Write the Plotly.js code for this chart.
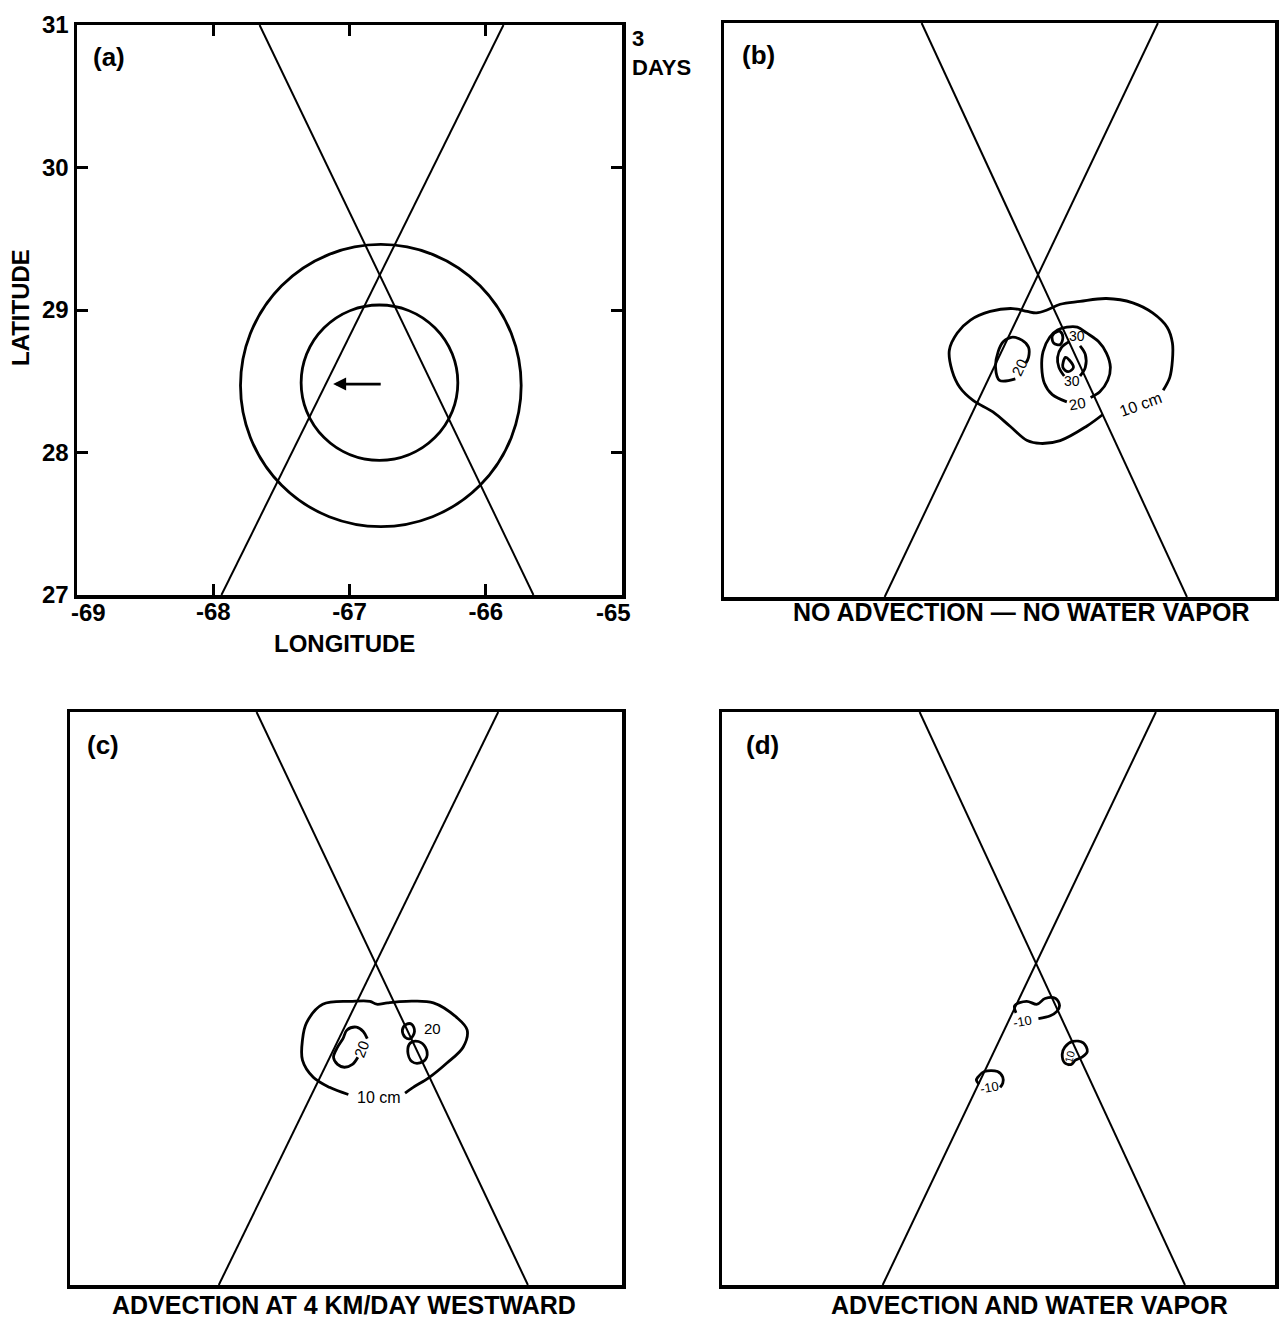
<!DOCTYPE html>
<html>
<head>
<meta charset="utf-8">
<script src="https://cdn.plot.ly/plotly-3.0.1.min.js"></script>
<style>
  html, body { margin: 0; padding: 0; background: #fff; }
  #chart { width: 1282px; height: 1319px; }
</style>
</head>
<body>
<div id="chart"></div>
<script>
// ---- Axis ticks (panel a) ----
const lonTicks = [-69, -68, -67, -66, -65];
const latTicks = [27, 28, 29, 30, 31];

// ---- Satellite ground tracks (lon, lat) ----
const trackLon1 = [-67.66, -65.65];
const trackLat1 = [31, 27];
const trackLon2 = [-67.94, -65.87];
const trackLat2 = [27, 31];

// ---- Panel (a): eddy rings (center lon/lat, radii in degrees) ----
const ringLon   = [-66.77, -66.78];
const ringLat   = [28.47, 28.49];
const ringRadLon = [1.03, 0.575];
const ringRadLat = [0.99, 0.545];
// drift direction arrow (tail -> head)
const driftLon = [-66.76, -67.12];
const driftLat = [28.48, 28.48];

// ---- Panel (b): no advection, no water vapor ----
const b10Lon = [-66.29,-66.41,-66.61,-66.76,-66.86,-66.99,-67.12,-67.27,-67.37,-67.43,-67.45,-67.39,-67.29,-67.14,-66.97,-66.86,-66.79,-66.71,-66.61,-66.46,-66.26,-66.06,-65.91,-65.80,-65.76,-65.76,-65.78,-65.83];
const b10Lat = [28.27,28.19,28.09,28.07,28.09,28.19,28.29,28.37,28.46,28.58,28.72,28.84,28.93,28.99,29.01,28.99,28.98,29.00,29.04,29.06,29.08,29.05,28.98,28.88,28.77,28.65,28.53,28.44];
const b20aLon = [-66.95,-67.07,-67.10,-67.08,-67.04,-66.98,-66.90,-66.85,-66.85,-66.87];
const b20aLat = [28.52,28.51,28.60,28.71,28.78,28.81,28.79,28.74,28.67,28.63];
const b20bLon = [-66.56,-66.67,-66.73,-66.75,-66.74,-66.69,-66.63,-66.56,-66.48,-66.41,-66.32,-66.26,-66.23,-66.25,-66.31,-66.38];
const b20bLat = [28.36,28.41,28.49,28.60,28.71,28.81,28.86,28.88,28.88,28.84,28.78,28.70,28.60,28.51,28.43,28.39];
const b30Lon = [-66.54,-66.60,-66.63,-66.62,-66.58,null,-66.46,-66.42,-66.42,-66.46];
const b30Lat = [28.78,28.74,28.67,28.60,28.54,null,28.54,28.60,28.69,28.75];
const bCurlLon = [-66.63,-66.67,-66.66,-66.61,-66.59,-66.61,-66.63];
const bCurlLat = [28.85,28.82,28.77,28.76,28.81,28.85,28.85];
const b40Lon = [-66.57,-66.59,-66.55,-66.51,-66.54,-66.57];
const b40Lat = [28.67,28.60,28.57,28.60,28.65,28.67];

// ---- Panel (c): advection at 4 km/day westward ----
const c10Lon = [-66.56,-66.50,-66.38,-66.25,-66.13,-66.10,-66.18,-66.35,-66.55,-66.69,-66.77,-66.82,-66.95,-67.17,-67.29,-67.32,-67.32,-67.24,-67.12,-66.98];
const c10Lat = [28.34,28.38,28.45,28.55,28.66,28.78,28.87,28.97,28.98,28.97,28.96,28.98,28.98,28.96,28.83,28.71,28.57,28.45,28.38,28.33];
const c20aLon = [-66.91,-66.95,-67.01,-67.06,-67.09,-67.06,-67.02,-66.99,-66.92,-66.87,-66.84];
const c20aLat = [28.59,28.54,28.52,28.54,28.59,28.66,28.72,28.78,28.80,28.77,28.72];
const c20bLon = [-66.55,-66.58,-66.56,-66.52,-66.49,-66.51,-66.55];
const c20bLat = [28.82,28.78,28.73,28.72,28.77,28.82,28.82];
const c20cLon = [-66.52,-66.54,-66.51,-66.45,-66.40,-66.41,-66.46,-66.52];
const c20cLat = [28.69,28.63,28.56,28.55,28.59,28.66,28.70,28.69];

// ---- Panel (d): advection and water vapor ----
const d1Lon = [-66.76,-66.67,-66.62,-66.60,-66.63,-66.71,-66.77,-66.85,-66.94,-66.93];
const d1Lat = [28.86,28.88,28.91,28.95,29.00,29.00,28.96,28.98,28.95,28.90];
const d2Lon = [-66.56,-66.50,-66.42,-66.39,-66.43,-66.48,-66.51,-66.56,-66.58,-66.56];
const d2Lat = [28.66,28.70,28.69,28.63,28.59,28.57,28.54,28.55,28.61,28.66];
const d3Lon = [-67.05,-67.03,-67.03,-67.07,-67.17,-67.22,-67.23,-67.21];
const d3Lat = [28.38,28.41,28.45,28.49,28.49,28.45,28.43,28.40];

// ---- Contour labels: [panel, lon, lat, text, angle, size] ----
const contourLabels = [
  ['b', -66.00, 28.34, '10 cm', -20, 16],
  ['b', -66.92, 28.60, '20', -65, 15],
  ['b', -66.48, 28.345, '20', -10, 15],
  ['b', -66.48, 28.82, '30', 0, 14],
  ['b', -66.52, 28.505, '30', 0, 14],
  ['c', -66.75, 28.31, '10 cm', 0, 16],
  ['c', -66.88, 28.65, '20', -70, 15],
  ['c', -66.36, 28.79, '20', 0, 15],
  ['d', -66.88, 28.84, '-10', -10, 13],
  ['d', -66.53, 28.58, '-10', -75, 11],
  ['d', -67.13, 28.38, '-10', -10, 13]
];

const captions = {
  b: 'NO ADVECTION \u2014 NO WATER VAPOR',
  c: 'ADVECTION AT 4 KM/DAY WESTWARD',
  d: 'ADVECTION AND WATER VAPOR'
};

// ---- Layout geometry ----
const W = 1282, H = 1319;
const FONT = 'Liberation Sans, Arial, Helvetica, sans-serif';
// panel frames in page pixels: [left, right, top, bottom]
const frames = {
  a: [77, 622, 25, 595],
  b: [724, 1275, 23, 597],
  c: [70, 622, 712, 1285],
  d: [722, 1275, 712, 1285]
};
const xRanges = {
  a: [-69, -65],
  b: [-69.157, -64.983],
  c: [-69.042, -64.953],
  d: [-69.157, -64.968]
};
const axisIds = { a: ['x', 'y'], b: ['x2', 'y2'], c: ['x3', 'y3'], d: ['x4', 'y4'] };

function xDom(p) { return [frames[p][0] / W, frames[p][1] / W]; }
function yDom(p) { return [1 - frames[p][3] / H, 1 - frames[p][2] / H]; }

function path(p, xs, ys, width, smooth) {
  return {
    type: 'scatter', mode: 'lines', x: xs, y: ys,
    xaxis: axisIds[p][0], yaxis: axisIds[p][1],
    line: { color: '#000', width: width, shape: smooth ? 'spline' : 'linear', smoothing: 1 },
    connectgaps: false, hoverinfo: 'skip', showlegend: false
  };
}

const traces = [];
['a', 'b', 'c', 'd'].forEach(p => {
  traces.push(path(p, trackLon1, trackLat1, 2, false));
  traces.push(path(p, trackLon2, trackLat2, 2, false));
});
[[b10Lon, b10Lat], [b20aLon, b20aLat], [b20bLon, b20bLat], [b30Lon, b30Lat], [bCurlLon, bCurlLat], [b40Lon, b40Lat]]
  .forEach(([xs, ys]) => traces.push(path('b', xs, ys, 2.8, true)));
[[c10Lon, c10Lat], [c20aLon, c20aLat], [c20bLon, c20bLat], [c20cLon, c20cLat]]
  .forEach(([xs, ys]) => traces.push(path('c', xs, ys, 2.8, true)));
[[d1Lon, d1Lat], [d2Lon, d2Lat], [d3Lon, d3Lat]]
  .forEach(([xs, ys]) => traces.push(path('d', xs, ys, 2.8, true)));

// Eddy rings in panel (a)
const shapes = ringLon.map((lon, i) => ({
  type: 'circle', xref: 'x', yref: 'y',
  x0: lon - ringRadLon[i], x1: lon + ringRadLon[i],
  y0: ringLat[i] - ringRadLat[i], y1: ringLat[i] + ringRadLat[i],
  line: { color: '#000', width: 2.8 }
}));

const boldFont = (size) => ({ family: FONT, size: size, color: '#000', weight: 700 });

const annotations = [];
// panel letters
[['a', 109, 57], ['b', 759, 55], ['c', 103, 745], ['d', 762, 745]].forEach(([p, x, y]) => {
  annotations.push({ xref: 'paper', yref: 'paper', x: x / W, y: 1 - y / H, text: '(' + p + ')',
    showarrow: false, xanchor: 'center', yanchor: 'middle', font: boldFont(26) });
});
// end longitude labels sit just inside the frame corners
const lastLon = lonTicks.length - 1;
[[lonTicks[0], 11], [lonTicks[lastLon], -9]].forEach(([v, shift]) => {
  annotations.push({ xref: 'x', yref: 'paper', x: v, xshift: shift, y: 1 - 612 / H, text: String(v),
    showarrow: false, xanchor: 'center', yanchor: 'middle', font: boldFont(24) });
});
// axis titles and duration
annotations.push({ xref: 'paper', yref: 'paper', x: 344 / W, y: 1 - 643 / H, text: 'LONGITUDE',
  showarrow: false, xanchor: 'center', yanchor: 'middle', font: boldFont(24) });
annotations.push({ xref: 'paper', yref: 'paper', x: 21 / W, y: 1 - 308 / H, text: 'LATITUDE',
  textangle: -90, showarrow: false, xanchor: 'center', yanchor: 'middle', font: boldFont(24) });
annotations.push({ xref: 'paper', yref: 'paper', x: 630 / W, y: 1 - 53 / H, text: '3<br>DAYS',
  align: 'left', showarrow: false, xanchor: 'left', yanchor: 'middle', font: boldFont(22) });
// captions
[['b', 1022, 612], ['c', 344, 1305], ['d', 1029, 1305]].forEach(([p, x, y]) => {
  annotations.push({ xref: 'paper', yref: 'paper', x: x / W, y: 1 - y / H, text: captions[p],
    showarrow: false, xanchor: 'center', yanchor: 'middle', font: boldFont(25) });
});
// drift arrow
annotations.push({
  xref: 'x', yref: 'y', axref: 'x', ayref: 'y',
  x: driftLon[1], y: driftLat[1], ax: driftLon[0], ay: driftLat[0],
  text: '', showarrow: true, arrowhead: 2, arrowsize: 1, arrowwidth: 2.6, arrowcolor: '#000'
});
// contour value labels
contourLabels.forEach(([p, lon, lat, t, ang, sz]) => {
  annotations.push({ xref: axisIds[p][0], yref: axisIds[p][1], x: lon, y: lat, text: t,
    textangle: ang, showarrow: false, xanchor: 'center', yanchor: 'middle',
    font: { family: FONT, size: sz, color: '#000' } });
});

function frameAxis(p, isX, withTicks) {
  const ax = {
    domain: isX ? xDom(p) : yDom(p),
    range: isX ? xRanges[p] : [27, 31],
    anchor: isX ? axisIds[p][1] : axisIds[p][0],
    showline: true, linecolor: '#000', linewidth: 3.5,
    mirror: withTicks ? 'ticks' : true,
    showgrid: false, zeroline: false, fixedrange: true
  };
  if (withTicks) {
    const vals = isX ? lonTicks : latTicks;
    // on the longitude axis the two end labels are placed as annotations
    const text = isX ? vals.map((v, i) => (i === 0 || i === vals.length - 1) ? '' : String(v))
                     : vals.map(String);
    Object.assign(ax, {
      ticks: 'inside', ticklen: 11, tickwidth: 3, tickcolor: '#000',
      tickmode: 'array', tickvals: vals, ticktext: text,
      showticklabels: true, tickfont: boldFont(24),
      ticklabelstandoff: isX ? -7 : 0
    });
  } else {
    Object.assign(ax, { ticks: '', showticklabels: false });
  }
  return ax;
}

const layout = {
  width: W, height: H,
  margin: { l: 0, r: 0, t: 0, b: 0 },
  paper_bgcolor: '#fff', plot_bgcolor: '#fff',
  showlegend: false,
  xaxis: frameAxis('a', true, true),  yaxis: frameAxis('a', false, true),
  xaxis2: frameAxis('b', true, false), yaxis2: frameAxis('b', false, false),
  xaxis3: frameAxis('c', true, false), yaxis3: frameAxis('c', false, false),
  xaxis4: frameAxis('d', true, false), yaxis4: frameAxis('d', false, false),
  shapes: shapes,
  annotations: annotations
};

Plotly.newPlot('chart', traces, layout, { staticPlot: true, displayModeBar: false });
</script>
</body>
</html>
